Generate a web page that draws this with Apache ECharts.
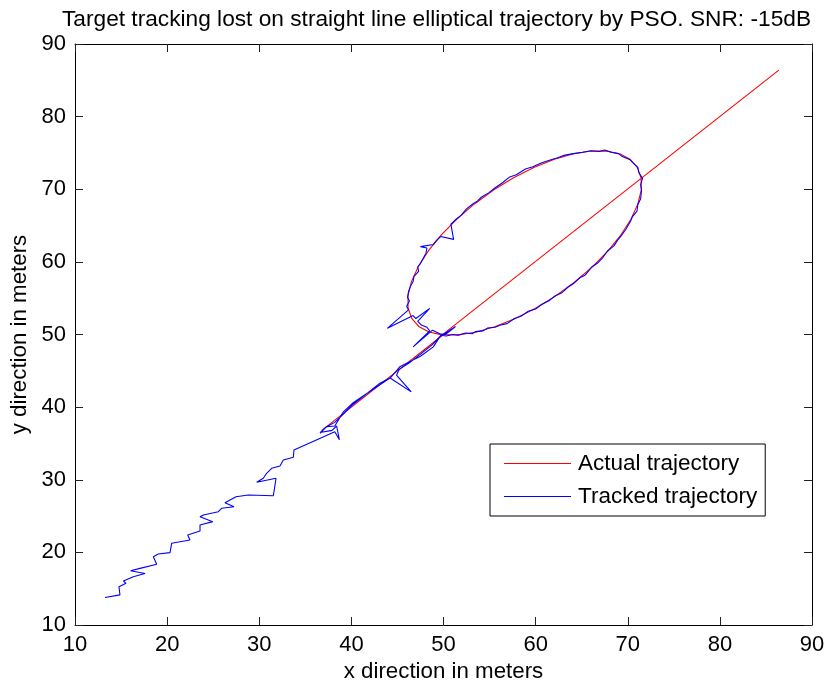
<!DOCTYPE html>
<html>
<head>
<meta charset="utf-8">
<script src="https://cdn.jsdelivr.net/npm/echarts@6/dist/echarts.min.js"></script>
<style>
  html, body { margin: 0; padding: 0; background: #fff; }
  #chart { width: 829px; height: 688px; }
</style>
</head>
<body>
<div id="chart"></div>
<script>
// Tick values shared by both axes
const xTicks = [10, 20, 30, 40, 50, 60, 70, 80, 90];
const yTicks = [10, 20, 30, 40, 50, 60, 70, 80, 90];

// Actual trajectory: straight approach, elliptical loop, straight exit
const actualApproach = [[36.8, 36.8], [50.0, 50.0]];
const actualLoop = [
  [51.56, 49.95], [53.48, 50.32], [55.56, 51.07], [57.74, 52.17], [59.95, 53.59],
  [62.13, 55.28], [64.21, 57.19], [66.12, 59.27], [67.81, 61.45], [69.23, 63.66],
  [70.33, 65.84], [71.08, 67.92], [71.46, 69.85], [71.45, 71.55], [71.05, 72.98],
  [70.29, 74.09], [69.18, 74.85], [67.75, 75.25], [66.05, 75.26], [64.12, 74.88],
  [62.04, 74.13], [59.86, 73.03], [57.65, 71.61], [55.47, 69.92], [53.39, 68.01],
  [51.48, 65.93], [49.79, 63.75], [48.37, 61.54], [47.27, 59.36], [46.52, 57.28],
  [46.15, 55.36], [46.15, 53.65], [46.55, 52.22], [47.31, 51.11], [48.42, 50.35],
  [49.85, 49.95], [50.0, 50.0]
];
const actualExit = [[86.4, 86.4]];

// Tracked trajectory: follows the approach, then the loop, then drifts away
const trackedApproach = [
  [36.6, 36.4], [37.3, 37.3], [38.2, 37.9], [39.1, 39.0], [40.2, 40.4],
  [41.6, 41.8], [43.0, 43.0], [44.2, 44.0], [45.3, 45.6], [46.4, 46.3],
  [47.5, 47.0], [48.9, 48.3], [49.7, 49.9]
];
const trackedLoop = [
  [50.3, 49.8], [51.0, 50.0], [51.6, 49.9], [52.4, 50.2], [53.1, 50.1], [53.5, 50.4],
  [54.3, 50.5], [54.8, 50.9], [55.6, 51.0], [56.2, 51.3], [56.9, 51.5], [57.7, 52.2],
  [58.4, 52.5], [59.2, 53.2], [60.0, 53.5], [60.6, 54.1], [61.4, 54.6], [62.1, 55.3],
  [62.8, 55.7], [63.5, 56.5], [64.2, 57.1], [64.8, 57.8], [65.4, 58.2], [66.1, 59.3],
  [66.7, 59.8], [67.3, 60.6], [67.8, 61.5], [68.5, 62.2], [68.9, 63.0], [69.3, 63.6],
  [69.8, 64.5], [70.3, 65.6], [70.5, 66.2], [71.0, 67.0], [71.1, 67.9], [71.4, 68.7],
  [71.5, 69.9], [71.4, 70.6], [71.6, 71.5], [71.2, 72.3], [71.1, 73.0], [70.6, 73.6],
  [70.2, 74.1], [69.4, 74.5], [69.0, 74.9], [68.2, 75.1], [67.5, 75.4], [66.9, 75.2],
  [66.0, 75.3], [65.1, 75.1], [64.1, 74.9], [63.2, 74.7], [62.3, 74.3], [61.5, 74.0],
  [60.6, 73.6], [59.7, 73.1], [58.9, 72.8], [57.9, 72.0], [57.2, 71.7], [56.4, 70.9],
  [55.5, 70.1], [54.9, 69.5], [54.1, 68.9], [53.7, 68.4], [53.1, 67.9], [52.5, 67.3],
  [51.9, 66.4], [51.4, 65.9], [50.8, 65.2], [51.1, 63.1], [49.7, 63.5], [49.2, 62.9],
  [48.9, 62.4], [47.5, 62.1], [48.2, 61.9], [48.1, 61.2], [47.8, 60.5], [47.5, 59.8],
  [47.2, 59.3], [47.3, 58.7], [46.8, 58.0], [46.7, 57.3], [46.4, 56.6], [46.2, 55.9],
  [46.1, 55.1], [46.3, 54.6], [46.0, 53.9], [46.2, 53.4], [43.9, 50.85], [46.7, 52.6],
  [47.0, 52.2], [48.5, 53.6], [47.2, 51.8], [47.6, 51.3], [48.2, 51.0], [48.5, 50.5],
  [46.7, 48.3], [48.8, 50.6], [49.6, 50.1], [50.2, 50.0], [51.3, 51.1], [49.6, 49.7]
];
const trackedDrift = [
  [48.8, 48.6], [47.3, 47.1], [46.3, 46.1], [45.2, 45.2], [44.9, 44.4], [46.5, 42.1],
  [44.2, 44.0], [43.1, 43.3], [41.8, 42.0], [40.2, 40.6], [39.1, 39.3], [38.2, 37.4],
  [37.3, 37.3], [36.6, 36.5], [37.9, 36.8], [38.4, 37.4], [38.7, 35.5], [38.2, 36.6],
  [33.77, 34.1], [33.7, 33.1], [32.61, 32.72], [32.25, 31.89], [31.35, 31.58], [30.8, 30.89],
  [30.44, 30.2], [29.72, 29.65], [31.82, 30.2], [31.53, 27.8], [28.81, 27.9], [27.48, 27.67],
  [26.28, 26.84], [27.26, 26.29], [25.92, 26.07], [25.56, 25.6], [23.93, 25.15], [23.57, 24.91],
  [24.95, 24.23], [23.57, 23.77], [23.57, 22.94], [22.23, 22.39], [22.48, 21.7], [21.4, 21.47],
  [20.5, 21.26], [20.31, 19.96], [19.04, 19.77], [18.5, 19.4], [18.87, 18.37], [17.06, 17.8],
  [16.04, 17.46], [17.6, 17.1], [16.33, 16.65], [15.25, 16.06], [15.54, 15.74], [14.77, 15.28],
  [14.88, 14.15], [13.26, 13.78]
];

const FONT = "'Liberation Sans', Arial, Helvetica, sans-serif";

const chart = echarts.init(document.getElementById('chart'), null, { renderer: 'canvas' });

function makeXAxis(pos, withLabels) {
  return {
    type: 'value', position: pos, min: xTicks[0], max: xTicks[xTicks.length - 1],
    interval: xTicks[1] - xTicks[0],
    splitLine: { show: false },
    axisLine: { show: true, onZero: false, lineStyle: { color: '#000', width: 1 } },
    axisTick: { show: true, inside: true, length: 8, lineStyle: { color: '#222' } },
    axisLabel: { show: withLabels, color: '#000', fontSize: 22, fontFamily: FONT, margin: 9 }
  };
}
function makeYAxis(pos, withLabels) {
  return {
    type: 'value', position: pos, min: yTicks[0], max: yTicks[yTicks.length - 1],
    interval: yTicks[1] - yTicks[0],
    splitLine: { show: false },
    axisLine: { show: true, onZero: false, lineStyle: { color: '#000', width: 1 } },
    axisTick: { show: true, inside: true, length: 8, lineStyle: { color: '#222' } },
    axisLabel: { show: withLabels, color: '#000', fontSize: 22, fontFamily: FONT, margin: 9 }
  };
}

const xBottom = makeXAxis('bottom', true);
xBottom.name = 'x direction in meters';
xBottom.nameLocation = 'middle';
xBottom.nameGap = 34;
xBottom.nameTextStyle = { color: '#000', fontSize: 22.3, fontFamily: FONT };

const yLeft = makeYAxis('left', true);
yLeft.name = 'y direction in meters';
yLeft.nameLocation = 'middle';
yLeft.nameGap = 42;
yLeft.nameTextStyle = { color: '#000', fontSize: 22.3, fontFamily: FONT };

chart.setOption({
  animation: false,
  backgroundColor: '#fff',
  title: {
    text: 'Target tracking lost on straight line elliptical trajectory by PSO. SNR: -15dB',
    left: 57, top: 3,
    textStyle: { color: '#000', fontSize: 22.7, fontWeight: 'normal', fontFamily: FONT }
  },
  grid: { left: 75, right: 17, top: 44, bottom: 63, containLabel: false },
  xAxis: [xBottom, makeXAxis('top', false)],
  yAxis: [yLeft, makeYAxis('right', false)],
  legend: {
    left: 490, top: 444, orient: 'vertical',
    backgroundColor: '#fff', borderColor: '#000', borderWidth: 1,
    padding: [8, 8, 8, 14], itemGap: 10,
    itemWidth: 67, itemHeight: 1.2, icon: 'rect',
    textStyle: { color: '#000', fontSize: 22.5, fontFamily: FONT, padding: [0, 0, 0, 2] },
    data: ['Actual trajectory', 'Tracked trajectory']
  },
  series: [
    {
      name: 'Actual trajectory', type: 'line', xAxisIndex: 0, yAxisIndex: 0,
      data: actualApproach.concat(actualLoop, actualExit),
      symbol: 'none', lineStyle: { color: '#ff0000', width: 1.1 }, itemStyle: { color: '#ff0000' },
      z: 2
    },
    {
      name: 'Tracked trajectory', type: 'line', xAxisIndex: 0, yAxisIndex: 0,
      data: trackedApproach.concat(trackedLoop, trackedDrift),
      symbol: 'none', lineStyle: { color: '#0000ff', width: 1.1 }, itemStyle: { color: '#0000ff' },
      z: 3
    }
  ]
});
</script>
</body>
</html>
